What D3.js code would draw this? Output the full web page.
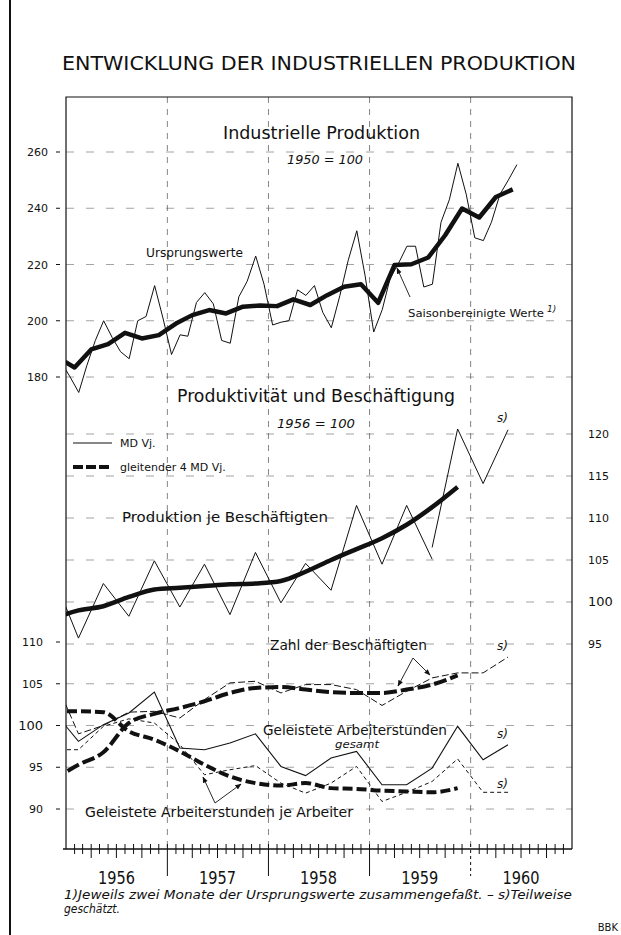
<!DOCTYPE html>
<html>
<head>
<meta charset="utf-8">
<script src="https://cdn.jsdelivr.net/npm/d3@7/dist/d3.min.js"></script>
<style>
body{margin:0;background:#fff}
svg text{font-family:"DejaVu Sans",sans-serif;fill:#111}
</style>
</head>
<body>
<svg id="chart" width="621" height="935"></svg>
<script>
// Industrielle Produktion, 1950 = 100 (monthly, from Dec 1955)
var urspWerte = [185,180,174.5,184,193,200,194,189,186.5,200,201.5,212.5,201,
  188,195,194.5,206.5,210,206,193,192,208.5,214,223,213,
  198.5,199.5,200,211,209,212.5,203,197.5,209,221.5,232,216,
  196,204,215,220.5,226.5,226.5,212,213,235,243,256,245,
  229.5,228.5,235,245,250,255.5];
// saisonbereinigt, two-month values (from Dec 1955)
var saisonWerte = [187,183.4,189.8,191.7,195.7,193.7,194.9,199,202,203.8,202.6,205,205.4,
  205.2,207.6,205.6,209.1,212.1,213,206.4,219.8,220.1,222.5,230.4,239.9,236.7,244,246.7];

// Produktivität und Beschäftigung, 1956 = 100 (quarterly, from Q4 1955)
var prodVj = [103.2,95.7,102.2,98.3,104.9,99.4,104.5,98.5,105.9,99.9,104.6,101.4,111.5,104.5,111.5,105.1];
var prodVjS = [106.5,120.6,114.1,120.5];          // from Q3 1959, s)
var prodGl = [98.0,99.0,99.5,100.6,101.5,101.7,101.9,102.1,102.2,102.5,103.6,105.0,106.3,107.6,109.2,111.3,113.7];

var beschVj = [106,99.0,100.0,101.6,101.7,100.9,103.1,105.1,105.3,103.9,104.9,104.9,104.3,102.4,104.1,105.7,106.3,106.3,108.2];
var beschGl = [93.5,95.3,96.8,100.3,101.4,102.1,102.9,103.9,104.5,104.6,104.3,104.0,103.9,103.9,104.3,104.9,106.0];
var stundenVj = [101.8,98.1,100.1,101.5,104.0,97.3,97.1,97.9,99.0,95.1,94.0,96.1,96.9,92.9,92.9,94.9,99.9,95.9,97.7];
var jeArbVj = [97.1,97.1,99.9,100.8,100.3,97.7,94.1,94.7,95.2,93.1,91.9,93.1,95.1,90.9,92.0,93.3,96.0,92.0,92.0];
var jeArbGl = [101.7,101.7,101.6,99.3,98.3,96.9,95.3,93.9,93.1,92.8,93.1,92.5,92.4,92.2,92.1,92.0,92.5];

var years = [1956,1957,1958,1959,1960];
var topTicks = [180,200,220,240,260];
var rightTicks = [95,100,105,110,115,120];
var leftTicks = [90,95,100,105,110];

var svg = d3.select("#chart");
var L = 66, R = 572, T = 97, B = 849;

var x = d3.scaleTime().domain([new Date(1956,0,1), new Date(1961,0,1)]).range([L,R]);
var yTop = d3.scaleLinear().domain([180,260]).range([377,152]);
var yMid = d3.scaleLinear().domain([95,120]).range([644,434]);
var yBot = d3.scaleLinear().domain([90,110]).range([809,642]);

function monthly(i){ return new Date(1955, 11+i, 16); }
function bimonth(i){ return new Date(1955, 11+2*i, 1); }
function quarter(i, start){ return new Date(1955, 10+3*(i+(start||0)), 15); }

svg.append("defs").append("clipPath").attr("id","plot")
  .append("rect").attr("x",L).attr("y",T).attr("width",R-L).attr("height",B-T);
svg.select("defs").append("marker")
  .attr("id","arr").attr("viewBox","0 0 10 10").attr("refX",9).attr("refY",5)
  .attr("markerWidth",7).attr("markerHeight",7).attr("orient","auto")
  .append("path").attr("d","M0,1L10,5L0,9z").attr("fill","#111");

// outer left border
svg.append("line").attr("x1",10).attr("x2",10).attr("y1",0).attr("y2",935)
  .attr("stroke","#111").attr("stroke-width",2);

// grid
var grid = svg.append("g").attr("stroke","#666").attr("stroke-width",0.6).attr("fill","none");
topTicks.forEach(function(v){
  grid.append("line").attr("x1",L).attr("x2",R).attr("y1",yTop(v)).attr("y2",yTop(v)).attr("stroke-dasharray","8,12");
});
rightTicks.forEach(function(v){
  grid.append("line").attr("x1",L).attr("x2",R).attr("y1",yMid(v)).attr("y2",yMid(v)).attr("stroke-dasharray","8,12");
});
leftTicks.slice(0,4).forEach(function(v){
  grid.append("line").attr("x1",L).attr("x2",R).attr("y1",yBot(v)).attr("y2",yBot(v)).attr("stroke-dasharray","8,12");
});
years.slice(1).forEach(function(y){
  grid.append("line").attr("x1",x(new Date(y,0,1))).attr("x2",x(new Date(y,0,1)))
    .attr("y1",T).attr("y2",B).attr("stroke-dasharray","6,6").attr("stroke-width",0.8);
});

// frame
svg.append("path").attr("d","M"+L+","+B+"V"+T+"H"+R+"V"+B)
  .attr("fill","none").attr("stroke","#111").attr("stroke-width",1.2);

// x axis
var xa = svg.append("g").attr("stroke","#111").attr("stroke-width",1);
xa.append("line").attr("x1",L-3).attr("x2",R).attr("y1",B).attr("y2",B).attr("stroke-width",1.4);
d3.range(1,60).forEach(function(m){
  var xx = x(new Date(1956,m,1));
  var y2 = m%12==0 ? B+27 : (m%3==0 ? B+9 : B+5);
  xa.append("line").attr("x1",xx).attr("x2",xx).attr("y1",B-5).attr("y2",y2)
    .attr("stroke-dasharray", m==48 ? "3,3" : null);
});
years.forEach(function(y){
  svg.append("text").attr("x",x(new Date(y,6,1))).attr("y",884)
    .attr("text-anchor","middle").attr("font-size",18).attr("textLength",37)
    .attr("lengthAdjust","spacingAndGlyphs").text(y);
});

// axis labels
topTicks.forEach(function(v){
  svg.append("text").attr("x",48).attr("y",yTop(v)+4).attr("text-anchor","end")
    .attr("font-size",11).text(v);
  svg.append("line").attr("x1",56).attr("x2",60).attr("y1",yTop(v)).attr("y2",yTop(v)).attr("stroke","#111");
});
leftTicks.forEach(function(v){
  svg.append("text").attr("x",43).attr("y",yBot(v)+4).attr("text-anchor","end")
    .attr("font-size", v==100 ? 13 : 11).text(v);
  svg.append("line").attr("x1",56).attr("x2",60).attr("y1",yBot(v)).attr("y2",yBot(v)).attr("stroke","#111");
});
rightTicks.forEach(function(v){
  svg.append("text").attr("x",588).attr("y",yMid(v)+4).attr("text-anchor","start")
    .attr("font-size", v==100 ? 13 : 11).text(v);
});

// lines
var plot = svg.append("g").attr("clip-path","url(#plot)").attr("fill","none").attr("stroke","#111");

function lin(dates, ys, curve){
  return d3.line().x(function(d,i){ return x(dates(i)); }).y(function(d){ return ys(d); })
    .curve(curve || d3.curveLinear);
}

plot.append("path").datum(urspWerte).attr("d", lin(monthly, yTop)).attr("stroke-width",1);
plot.append("path").datum(saisonWerte).attr("d", lin(bimonth, yTop))
  .attr("stroke-width",4.5).attr("stroke-linejoin","round");

plot.append("path").datum(prodVj).attr("d", lin(function(i){ return quarter(i); }, yMid)).attr("stroke-width",1);
plot.append("path").datum(prodVjS).attr("d", lin(function(i){ return quarter(i,15); }, yMid))
  .attr("stroke-width",1);
plot.append("path").datum(prodGl).attr("d", lin(function(i){ return quarter(i); }, yMid, d3.curveMonotoneX))
  .attr("stroke-width",4.5);

plot.append("path").datum(beschVj).attr("d", lin(function(i){ return quarter(i); }, yBot))
  .attr("stroke-width",1).attr("stroke-dasharray","7,3");
plot.append("path").datum(stundenVj).attr("d", lin(function(i){ return quarter(i); }, yBot))
  .attr("stroke-width",1.1);
plot.append("path").datum(jeArbVj).attr("d", lin(function(i){ return quarter(i); }, yBot))
  .attr("stroke-width",1).attr("stroke-dasharray","4,3");
plot.append("path").datum(beschGl).attr("d", lin(function(i){ return quarter(i); }, yBot, d3.curveMonotoneX))
  .attr("stroke-width",4).attr("stroke-dasharray","13,4");
plot.append("path").datum(jeArbGl).attr("d", lin(function(i){ return quarter(i); }, yBot, d3.curveMonotoneX))
  .attr("stroke-width",4).attr("stroke-dasharray","10,4");

// legend
svg.append("line").attr("x1",73).attr("x2",112).attr("y1",443).attr("y2",443).attr("stroke","#111").attr("stroke-width",1);
svg.append("line").attr("x1",73).attr("x2",111).attr("y1",467).attr("y2",467).attr("stroke","#111")
  .attr("stroke-width",4).attr("stroke-dasharray","10,3");
svg.append("text").attr("x",120).attr("y",447).attr("font-size",11).text("MD Vj.");
svg.append("text").attr("x",120).attr("y",471).attr("font-size",11).text("gleitender 4 MD Vj.");

// texts
function txt(s, xx, yy, size, len, italic){
  var t = svg.append("text").attr("x",xx).attr("y",yy).attr("font-size",size).text(s);
  if (len) t.attr("textLength",len).attr("lengthAdjust","spacingAndGlyphs");
  if (italic) t.attr("font-style","italic");
  return t;
}
txt("ENTWICKLUNG DER INDUSTRIELLEN PRODUKTION", 62, 70, 20, 514);
txt("Industrielle Produktion", 223, 139, 18, 197);
txt("1950 = 100", 287, 164, 13, 76, true);
txt("Ursprungswerte", 146, 257, 12, 97);
txt("Saisonbereinigte Werte", 408, 317, 11, 136);
txt("1)", 547, 312, 9, 0, true);
txt("Produktivität und Beschäftigung", 177, 402, 18, 278);
txt("1956 = 100", 277, 428, 13, 78, true);
txt("s)", 497, 422, 12, 0, true);
txt("Produktion je Beschäftigten", 122, 522, 14.5, 206);
txt("Zahl der Beschäftigten", 270, 650, 14, 157);
txt("s)", 497, 650, 12, 0, true);
txt("Geleistete Arbeiterstunden", 263, 735, 14, 184);
txt("gesamt", 335, 748, 10, 44, true);
txt("s)", 497, 738, 12, 0, true);
txt("s)", 497, 788, 12, 0, true);
txt("Geleistete Arbeiterstunden je Arbeiter", 85, 817, 14, 268);
txt("1)Jeweils zwei Monate der Ursprungswerte zusammengefaßt. – s)Teilweise", 64, 899, 12, 508, true);
txt("geschätzt.", 64, 913, 12, 56, true);
txt("BBK", 618, 931, 10, 0).attr("text-anchor","end");

// arrows
var arrows = [
  [410,297,397,268],
  [413,658,398,686],
  [413,658,430,675],
  [215,803,203,777],
  [215,803,241,784]
];
arrows.forEach(function(a){
  svg.append("line").attr("x1",a[0]).attr("y1",a[1]).attr("x2",a[2]).attr("y2",a[3])
    .attr("stroke","#111").attr("stroke-width",0.9).attr("marker-end","url(#arr)");
});
</script>
</body>
</html>
